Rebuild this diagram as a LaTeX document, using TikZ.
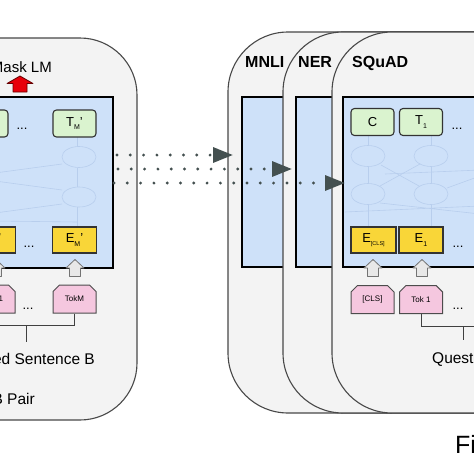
\documentclass[tikz,border=0pt]{standalone}
\usepackage{fontspec}
\setmainfont{Liberation Sans}
\usetikzlibrary{arrows.meta,shapes.misc}
\definecolor{panelfill}{RGB}{243,243,243}
\definecolor{panelline}{RGB}{72,72,72}
\definecolor{bluefill}{RGB}{206,225,249}
\definecolor{greenfill}{RGB}{218,243,207}
\definecolor{yellowfill}{RGB}{249,214,56}
\definecolor{pinkfill}{RGB}{245,199,223}
\definecolor{faint}{RGB}{184,206,237}
\definecolor{dotgray}{RGB}{68,80,80}
\definecolor{arrowred}{RGB}{232,0,10}
\definecolor{arrowgray}{RGB}{232,232,232}
\newcommand{\lowsub}[1]{\raisebox{-0.45ex}{\fontsize{7}{7}\selectfont #1}}
\newcommand{\tinysub}[1]{\raisebox{-0.45ex}{\fontsize{5.5}{5.5}\selectfont #1}}
\begin{document}
\begin{tikzpicture}[x=1pt,y=-1pt,
  panel/.style={draw=panelline, line width=1.1pt, fill=panelfill, rounded corners=60pt},
  bluebox/.style={draw=black, line width=1.7pt, fill=bluefill},
  tbox/.style={draw=black!80, line width=1.1pt, fill=greenfill, rounded corners=3.5pt,
    minimum width=43pt, minimum height=27pt, inner sep=0pt, font=\fontsize{13}{13}\selectfont},
  ebox/.style={draw=black!80, line width=1.1pt, fill=yellowfill,
    minimum width=44pt, minimum height=26pt, inner sep=0pt, font=\fontsize{13}{13}\selectfont},
  tokbox/.style={draw=black!70, line width=1pt, fill=pinkfill, chamfered rectangle,
    chamfered rectangle corners={north west,north east}, chamfered rectangle xsep=3pt,
    minimum width=43pt, minimum height=28pt, inner sep=0pt, font=\fontsize{8}{8}\selectfont},
  dotsl/.style={font=\fontsize{13}{13}\selectfont, anchor=base, inner sep=0pt},
  title/.style={font=\fontsize{16}{16}\selectfont\bfseries, anchor=base west, inner sep=0pt},
  caption/.style={font=\fontsize{15.5}{15.5}\selectfont, inner sep=0pt},
  faintline/.style={draw=faint, line width=0.6pt},
  bracket/.style={draw=black!75, line width=1pt},
  dotline/.style={draw=dotgray, line width=3.2pt, line cap=round, dash pattern=on 0pt off 13.3pt,
    -{Triangle[length=20pt,width=15pt,fill=dotgray]}},
  grayup/.pic={\draw[fill=arrowgray, draw=black!55, line width=0.8pt, line join=round]
    (-9,8.5) -- (0,0) -- (9,8.5) -- (5.5,8.5) -- (5.5,17) -- (-5.5,17) -- (-5.5,8.5) -- cycle;},
  redup/.pic={\draw[fill=arrowred, draw=black!60!red, line width=0.8pt, line join=round]
    (-13,7.5) -- (0,0) -- (13,7.5) -- (7,7.5) -- (7,16) -- (-7,16) -- (-7,7.5) -- cycle;}
]
\useasboundingbox (0,0) rectangle (474,474);
\fill[white] (0,0) rectangle (474,474);
\clip (0,0) rectangle (474,474);

% ---------- left (pre-training) panel ----------
\draw[panel, rounded corners=57pt] (-90,38) rectangle (137,420);
\draw[bluebox] (-20,97) rectangle (113,268);
% faint inner network
\draw[faintline] (79,157) ellipse [x radius=17pt, y radius=10.5pt];
\draw[faintline] (79,197) ellipse [x radius=17pt, y radius=10pt];
\draw[faintline] (77,137) -- (77,146.5) (77,167.5) -- (77,187) (77,207) -- (77,227);
\draw[faintline] (-5,173) -- (62,164);
\draw[faintline] (-5,181) -- (62,190);
\draw[faintline] (-5,213) -- (62,204);
\draw[faintline] (-5,221) -- (77,222);

\node[tbox] (t1p) at (-13.5,123.5) {T\lowsub{1}'};
\node[tbox] (tmp) at (74.5,123.5) {T\lowsub{M}'};
\node[dotsl] (dl1) at (22,129) {...};
\node[ebox] (e1p) at (-6.5,240) {E\lowsub{1}'};
\node[ebox] (emp) at (74.5,240) {E\lowsub{M}'};
\node[dotsl] (dl2) at (29,247) {...};
\pic at (-4,259.5) {grayup};
\pic at (75,259.5) {grayup};
\node[tokbox] (tok1p) at (-6.5,299) {Tok 1};
\node[tokbox] (tokm) at (74.5,299) {TokM};
\node[dotsl] (dl3) at (28,309) {...};
\coordinate (lbl) at (-30,325);
\coordinate (lbm) at (26,325);
\coordinate (lbt) at (26,342);
\draw[bracket] (tokm.south) |- (lbl);
\draw[bracket] (lbm) -- (lbt);

\pic at (20,76) {redup};
\node[caption, font=\fontsize{15}{15}\selectfont, anchor=base east] (mlm) at (52,72) {Mask LM};
\node[caption, anchor=base east] (msb) at (95,364) {Masked Sentence B};
\node[caption, anchor=base east] (pair) at (35,404) {Unlabeled Sentence A and B Pair};

% ---------- right (fine-tuning) panels ----------
\draw[panel] (228,32) rectangle (580,413);
\draw[bluebox] (242,97) rectangle (340,267);
\node[title] (mnli) at (245,67) {MNLI};

\draw[panel] (283,32) rectangle (580,413);
\draw[bluebox] (296,97) rectangle (390,267);
\node[title] (ner) at (298,67) {NER};

\draw[panel] (332,32) rectangle (580,413);
\draw[bluebox] (343,97) rectangle (540,267);
\node[title] (squad) at (352,67) {SQuAD};

% faint inner network (SQuAD)
\draw[faintline] (368,156) ellipse [x radius=17pt, y radius=10.5pt];
\draw[faintline] (431,156) ellipse [x radius=17pt, y radius=10.5pt];
\draw[faintline] (368,194) ellipse [x radius=17pt, y radius=10.5pt];
\draw[faintline] (431,194) ellipse [x radius=17pt, y radius=10.5pt];
\draw[faintline] (368,135) -- (368,145.5) (368,166.5) -- (368,183.5) (368,204.5) -- (368,227);
\draw[faintline] (431,135) -- (431,145.5) (431,166.5) -- (431,183.5) (431,204.5) -- (431,227);
\draw[faintline] (380,186) -- (420,164) (419,186) -- (381,165);
\draw[faintline] (385,174) -- (480,170) (447,188) -- (480,176);
\draw[faintline] (345,212) -- (480,206) (380,203) -- (480,214);

\node[tbox] (c) at (372.5,122) {C};
\node[tbox] (t1) at (421,122) {T\lowsub{1}};
\node[dotsl] (dr1) at (457,129) {...};
\node[ebox, minimum width=45pt] (ecls) at (373.5,240) {E\tinysub{[CLS]}};
\node[ebox] (e1) at (421,240) {E\lowsub{1}};
\node[dotsl] (dr2) at (458,247) {...};
\pic at (373,259.5) {grayup};
\pic at (422,259.5) {grayup};
\node[tokbox] (cls) at (372.5,299.5) {[CLS]};
\node[tokbox] (tok1) at (421,299.5) {Tok 1};
\node[dotsl] (dr3) at (458,309) {...};
\coordinate (rbr) at (500,326);
\coordinate (rbm) at (463,326);
\coordinate (rbt) at (463,340);
\draw[bracket] (tok1.south) |- (rbr);
\draw[bracket] (rbm) -- (rbt);
\node[caption, anchor=base west] (quest) at (432,363) {Question};

\node[font=\fontsize{25}{25}\selectfont, anchor=base west, inner sep=0pt] (ft) at (455,453) {Fine-Tuning};

% ---------- dotted transfer arrows ----------
\coordinate (a1s) at (117,155);
\coordinate (a1e) at (233,155);
\coordinate (a2s) at (118,169);
\coordinate (a2e) at (292,169);
\coordinate (a3s) at (114,183);
\coordinate (a3e) at (345,183);
\draw[dotline] (a1s) -- (a1e);
\draw[dotline] (a2s) -- (a2e);
\draw[dotline] (a3s) -- (a3e);
\end{tikzpicture}
\end{document}
